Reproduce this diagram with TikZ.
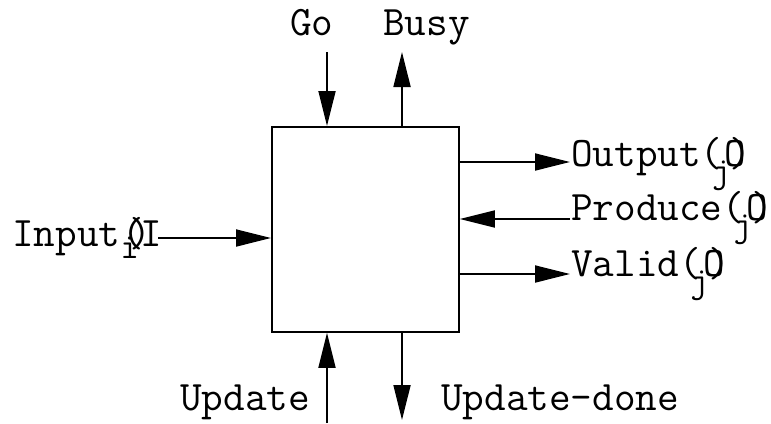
\documentclass[tikz,border=0pt]{standalone}
\usepackage{fontspec}
\usetikzlibrary{arrows.meta}
\newcommand{\subj}[1]{\raisebox{-0.4em}{\fontsize{36}{36}\selectfont #1}}
\begin{document}
\begin{tikzpicture}[x=1pt,y=-1pt,
  arr/.style={line width=1.8pt,-{Triangle[length=35pt,width=17pt]}},
  lbl/.style={inner sep=0pt,font=\ttfamily\fontsize{42}{46}\selectfont}]
\useasboundingbox (0,0) rectangle (771,423);
\node[draw,line width=1.8pt,minimum width=187pt,minimum height=205pt,anchor=north west,inner sep=0pt] (box) at (271,126) {};
% free ends
\coordinate (go) at (327,52);
\coordinate (busy) at (402,52);
\coordinate (outE) at (570,162);
\coordinate (prodE) at (570,219);
\coordinate (valE) at (570,274);
\coordinate (inE) at (158,238);
\coordinate (upd) at (327,423);
\coordinate (updd) at (402,420);
\draw[arr] (go) -- (go |- box.north);
\draw[arr] (busy |- box.north) -- (busy);
\draw[arr] (outE -| box.east) -- (outE);
\draw[arr] (prodE) -- (prodE -| box.east);
\draw[arr] (valE -| box.east) -- (valE);
\draw[arr] (inE) -- (inE -| box.west);
\draw[arr] (upd) -- (upd |- box.south);
\draw[arr] (updd |- box.south) -- (updd);
% labels
\node[lbl,anchor=base west] (lgo) at (290,35) {Go};
\node[lbl,anchor=base west] (lbusy) at (383,35) {Busy};
\node[lbl,anchor=base west] (lout) at (571,166) {Output(\rlap{\kern-0.25em\subj{j}}\kern0.05em\rlap{O}\kern0.12em)};
\node[lbl,anchor=base west] (lprod) at (571,220) {Produce(\rlap{\kern-0.25em\subj{j}}\kern0.05em\rlap{O}\kern0.12em)};
\node[lbl,anchor=base west] (lval) at (571,276) {Valid(\rlap{\kern-0.25em\subj{j}}\kern0.05em\rlap{O}\kern0.12em)};
\node[lbl,anchor=base west] (lin) at (12,246) {Input\rlap{\raisebox{-0.3em}{\fontsize{36}{36}\selectfont i}}\kern0.05em(\kern-0.35em)\kern-0.26em I};
\node[lbl,anchor=base west] (lupd) at (180,410) {Update};
\node[lbl,anchor=base west] (lupdd) at (441,410) {Update-done};
\end{tikzpicture}
\end{document}
